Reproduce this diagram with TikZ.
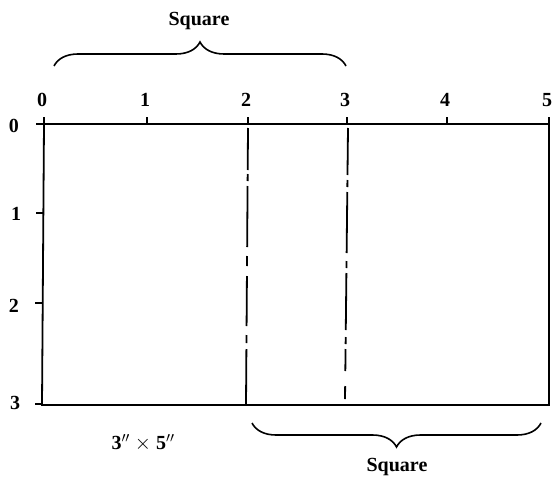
\documentclass[tikz,border=0pt]{standalone}
\usepackage{fontspec}
\setmainfont{Liberation Serif}
\usetikzlibrary{decorations.pathreplacing}
\begin{document}
\begin{tikzpicture}[x=1pt,y=-1pt,
  lbl/.style={font=\bfseries\fontsize{20}{22}\selectfont, inner sep=0pt},
  edge/.style={line width=1.8pt, line cap=round},
  tick/.style={line width=1.5pt},
  fold/.style={line width=1.8pt},
  brc/.style={line width=1.6pt, decorate, decoration={brace, amplitude=24pt, aspect=0.5}}]
\useasboundingbox (0,0) rectangle (553,484);
% card outline
\coordinate (tl) at (44,124);
\coordinate (tr) at (549,124);
\coordinate (br) at (549,405);
\coordinate (bl) at (42,405);
\draw[edge] (tl) -- (tr) -- (br) -- (bl) -- cycle;
% top ticks and labels
\foreach \i/\x in {0/44,1/147,2/248,3/347,4/447,5/549} {
  \draw[tick] (\x,124) -- (\x,117);
  \node[lbl] (t\i) at (\x-2,100) {\i};
}
% left ticks and labels
\draw[tick] (36,124) -- (44,124);
\draw[tick] (36,213) -- (43,213);
\draw[tick] (35,303) -- (42,303);
\draw[tick] (35,404) -- (42,404);
\node[lbl] (l0) at (14,126) {0};
\node[lbl] (l1) at (16,214) {1};
\node[lbl] (l2) at (14,306) {2};
\node[lbl] (l3) at (15,403) {3};
% fold line at 2 (dash-dot, solid near the bottom)
\foreach \a/\b in {128/170,174/181,186/247,256/266,276/326,335/343,349/405} {
  \draw[fold] ({248-2*(\a-128)/277},\a) -- ({248-2*(\b-128)/277},\b);
}
% fold line at 3 (dash-dot)
\foreach \a/\b in {128/175,180/187,192/253,261/268,273/330,337/344,349/371,386/399} {
  \draw[fold] ({348-3*(\a-128)/272},\a) -- ({348-3*(\b-128)/272},\b);
}
% braces
\coordinate (b1a) at (54,66);
\coordinate (b1b) at (346,66);
\draw[brc] (b1a) -- (b1b);
\node[lbl] (sq1) at (199,21) {Square};
\coordinate (b2a) at (541,423);
\coordinate (b2b) at (252,423);
\draw[brc] (b2a) -- (b2b);
\node[lbl] (sq2) at (397,467) {Square};
\node[lbl] (dim) at (143,443) {3$''$ $\times$ 5$''$};
\end{tikzpicture}
\end{document}
